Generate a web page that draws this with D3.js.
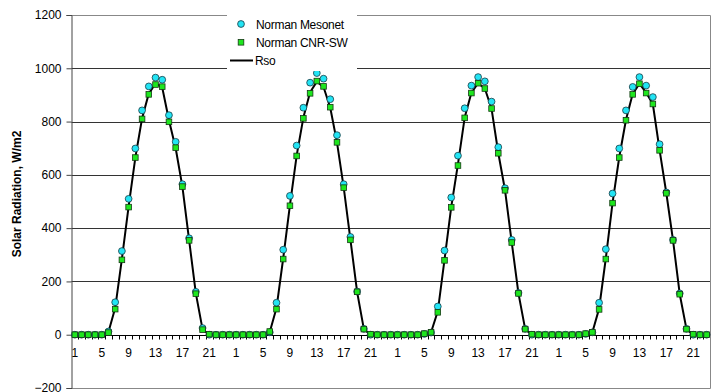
<!DOCTYPE html>
<html>
<head>
<meta charset="utf-8">
<script src="https://cdn.jsdelivr.net/npm/d3@7"></script>
<style>
  body { margin: 0; background: #fff; }
  svg { display: block; font-family: "Liberation Sans", Arial, sans-serif; }
</style>
</head>
<body>
<div id="chart"></div>
<script>
// hourly values, 4 days (last day stops at hour 23)
var mesonet = [
  0,0,0,0,0,12,122,314,510,699,842,932,965,957,824,724,565,362,161,25,0,0,0,0,
  0,0,0,0,0,9,120,319,521,710,852,946,982,961,884,749,565,367,162,22,0,0,0,0,
  0,0,0,0,3,8,106,316,515,672,850,935,967,951,875,704,550,356,157,22,0,0,0,0,
  0,0,0,0,3,9,120,321,530,699,842,930,967,935,892,715,534,356,155,22,0,0,0
];
var cnrsw = [
  0,0,0,0,0,8,96,281,479,665,810,902,939,931,799,702,556,354,154,19,2,0,0,0,
  0,0,0,0,0,12,96,284,484,671,812,906,952,932,854,722,552,356,161,21,2,0,0,0,
  0,0,0,0,4,9,84,279,478,635,814,907,944,924,849,681,542,346,155,21,2,0,0,0,
  0,0,0,0,4,9,95,284,494,665,805,902,942,907,866,692,531,354,152,21,2,0,0
];
var rso = [
  0,0,0,0,0,10,100,285,482,665,812,905,943,928,805,700,556,355,155,20,0,0,0,0,
  0,0,0,0,0,10,100,287,486,672,815,910,950,930,852,722,553,357,160,21,0,0,0,0,
  0,0,0,0,0,9,88,282,480,640,815,908,944,924,848,682,543,347,155,21,0,0,0,0,
  0,0,0,0,0,9,98,287,495,667,807,904,942,909,865,693,532,354,152,21,0,0,0
];
var hourLabels = mesonet.map(function (d, i) { return (i % 24) + 1; });
var yTicks = [-200, 0, 200, 400, 600, 800, 1000, 1200];

var width = 717, height = 392;
var margin = {left: 71.5, right: 710, top: 15, bottom: 388};

var svg = d3.select("#chart").append("svg")
    .attr("width", width)
    .attr("height", height);

var idx = d3.range(mesonet.length);
var x = d3.scaleBand().domain(idx).range([margin.left, margin.right]).padding(0);
var y = d3.scaleLinear().domain([-200, 1200]).range([margin.bottom, margin.top]);
var cx = function (i) { return x(i) + x.bandwidth() / 2; };

// grid lines
svg.append("g").selectAll("line")
    .data([200, 400, 600, 800, 1000])
    .enter().append("line")
    .attr("x1", margin.left).attr("x2", margin.right)
    .attr("y1", function (d) { return Math.round(y(d)) + 0.5; })
    .attr("y2", function (d) { return Math.round(y(d)) + 0.5; })
    .attr("stroke", "#333").attr("stroke-width", 1);

// plot border (top, right, bottom)
svg.append("path")
    .attr("d", "M" + margin.left + "," + (margin.top + 0.5) + "H" + (margin.right + 0.5) +
               "V" + (margin.bottom + 0.5) + "H" + margin.left)
    .attr("fill", "none").attr("stroke", "#888").attr("stroke-width", 1);

// y axis
var yAxis = svg.append("g")
    .attr("transform", "translate(" + margin.left + ",0)")
    .call(d3.axisLeft(y).tickValues(yTicks).tickFormat(d3.format("d")).tickSize(5).tickPadding(5));
yAxis.select(".domain").attr("stroke", "#444");
yAxis.selectAll(".tick line").attr("stroke", "#444");
yAxis.selectAll("text").attr("font-size", 12).attr("fill", "#000")
    .attr("font-family", "Liberation Sans, Arial, sans-serif");

svg.append("text")
    .attr("transform", "translate(21,194) rotate(-90)")
    .attr("text-anchor", "middle")
    .attr("font-size", 12).attr("font-weight", "bold")
    .text("Solar Radiation, W/m2");

// x axis along y = 0
var y0 = Math.round(y(0)) + 0.5;
var xa = svg.append("g");
xa.append("line")
    .attr("x1", margin.left).attr("x2", margin.right)
    .attr("y1", y0).attr("y2", y0)
    .attr("stroke", "#000");
xa.selectAll("line.tk")
    .data(idx.slice(1))
    .enter().append("line")
    .attr("class", "tk")
    .attr("x1", function (i) { return Math.round(x(i)) + 0.5; })
    .attr("x2", function (i) { return Math.round(x(i)) + 0.5; })
    .attr("y1", y0).attr("y2", y0 + 4)
    .attr("stroke", "#000");
xa.selectAll("text")
    .data(idx.filter(function (i) { return i % 4 === 0; }))
    .enter().append("text")
    .attr("x", cx)
    .attr("y", 356.5)
    .attr("text-anchor", "middle")
    .attr("font-size", 12)
    .text(function (i) { return hourLabels[i]; });

// Rso line
var line = d3.line()
    .x(function (d, i) { return cx(i); })
    .y(function (d) { return y(d); });
svg.append("path")
    .datum(rso)
    .attr("d", line)
    .attr("fill", "none")
    .attr("stroke", "#000")
    .attr("stroke-width", 2)
    .attr("stroke-linejoin", "round");

// Mesonet circles
svg.append("g").selectAll("circle")
    .data(mesonet)
    .enter().append("circle")
    .attr("cx", function (d, i) { return cx(i); })
    .attr("cy", function (d) { return y(d); })
    .attr("r", 3.4)
    .attr("fill", "#22e4f4")
    .attr("stroke", "#1b3b44")
    .attr("stroke-width", 0.8);

// CNR-SW squares
svg.append("g").selectAll("rect")
    .data(cnrsw)
    .enter().append("rect")
    .attr("x", function (d, i) { return cx(i) - 2.8; })
    .attr("y", function (d) { return y(d) - 2.8; })
    .attr("width", 5.6).attr("height", 5.6)
    .attr("fill", "#1ee61e")
    .attr("stroke", "#143814")
    .attr("stroke-width", 0.8);

// legend
var lg = svg.append("g");
lg.append("rect")
    .attr("x", 227).attr("y", 8)
    .attr("width", 130).attr("height", 63)
    .attr("fill", "#fff");
lg.append("circle")
    .attr("cx", 241).attr("cy", 24).attr("r", 3.4)
    .attr("fill", "#22e4f4").attr("stroke", "#1b3b44").attr("stroke-width", 0.8);
lg.append("rect")
    .attr("x", 238.2).attr("y", 39.5).attr("width", 5.6).attr("height", 5.6)
    .attr("fill", "#1ee61e").attr("stroke", "#143814").attr("stroke-width", 0.8);
lg.append("line")
    .attr("x1", 230).attr("x2", 253).attr("y1", 60.5).attr("y2", 60.5)
    .attr("stroke", "#000").attr("stroke-width", 2);
var legendNames = ["Norman Mesonet", "Norman CNR-SW", "Rso"];
var legendY = [28.5, 46.5, 65];
lg.selectAll("text.lt")
    .data(legendNames)
    .enter().append("text")
    .attr("class", "lt")
    .attr("x", function (d, i) { return i === 2 ? 255 : 256; })
    .attr("y", function (d, i) { return legendY[i]; })
    .attr("font-size", 12)
    .attr("letter-spacing", -0.3)
    .text(function (d) { return d; });
</script>
</body>
</html>
